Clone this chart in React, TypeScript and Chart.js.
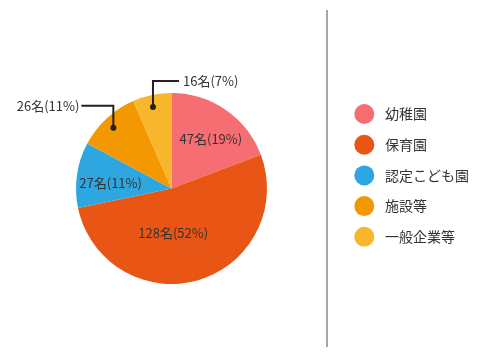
import React, { useEffect, useRef } from "react";
import { Chart, registerables } from "chart.js";

Chart.register(...registerables);

const categories = ["幼稚園", "保育園", "認定こども園", "施設等", "一般企業等"];
const counts = [47, 128, 27, 26, 16];
const percents = [19, 52, 11, 11, 7];
const colors = ["#F76E72", "#E95514", "#2EA7E0", "#F39800", "#F8B62D"];

// label placement styling: inside (radius fraction, angle shift deg) or leader callout
const labelStyles = [
  { type: "in", frac: 0.66, shift: 4 },
  { type: "in", frac: 0.466, shift: 14 },
  { type: "in", frac: 0.64, shift: -3 },
  { type: "out", frac: 0.88, shift: -1, rise: 22, run: -32 },
  { type: "out", frac: 0.875, shift: -1, rise: 26, run: 26 },
];

const FONT = '"Noto Sans CJK JP", "Noto Sans", sans-serif';

const overlayPlugin = {
  id: "overlay",
  afterDatasetsDraw(chart: any) {
    const ctx = chart.ctx;
    const meta = chart.getDatasetMeta(0);
    ctx.save();
    ctx.font = `13px ${FONT}`;
    ctx.fillStyle = "#333";
    ctx.strokeStyle = "#222";
    ctx.textBaseline = "middle";
    meta.data.forEach((arc: any, i: number) => {
      const p = arc.getProps(["startAngle", "endAngle", "outerRadius", "x", "y"], true);
      const st = labelStyles[i];
      const mid = (p.startAngle + p.endAngle) / 2 + (st.shift * Math.PI) / 180;
      const r = p.outerRadius * st.frac;
      const lx = p.x + Math.cos(mid) * r;
      const ly = p.y + Math.sin(mid) * r;
      const text = `${counts[i]}名(${percents[i]}%)`;
      if (st.type === "in") {
        ctx.textAlign = "center";
        ctx.fillText(text, lx, ly);
      } else {
        const ey = ly - (st.rise as number);
        const ex = lx + (st.run as number);
        ctx.lineWidth = 2;
        ctx.beginPath();
        ctx.moveTo(lx, ly);
        ctx.lineTo(lx, ey);
        ctx.lineTo(ex, ey);
        ctx.stroke();
        ctx.beginPath();
        ctx.arc(lx, ly, 3, 0, Math.PI * 2);
        ctx.fillStyle = "#222";
        ctx.fill();
        ctx.fillStyle = "#333";
        if ((st.run as number) < 0) {
          ctx.textAlign = "right";
          ctx.fillText(text, ex - 2, ey);
        } else {
          ctx.textAlign = "left";
          ctx.fillText(text, ex + 4, ey);
        }
      }
    });

    // divider line
    ctx.strokeStyle = "#8f8f8f";
    ctx.lineWidth = 1.6;
    ctx.beginPath();
    ctx.moveTo(327, 10);
    ctx.lineTo(327, 347);
    ctx.stroke();

    // legend
    ctx.font = `14px ${FONT}`;
    ctx.textAlign = "left";
    ctx.textBaseline = "middle";
    categories.forEach((c, i) => {
      const y = 114 + i * 30.7;
      ctx.beginPath();
      ctx.arc(364.3, y, 10, 0, Math.PI * 2);
      ctx.fillStyle = colors[i];
      ctx.fill();
      ctx.fillStyle = "#333";
      ctx.fillText(c, 385, y);
    });
    ctx.restore();
  },
};

export default function App() {
  const ref = useRef<HTMLCanvasElement>(null);
  useEffect(() => {
    document.body.style.margin = "0";
    const chart = new Chart(ref.current as HTMLCanvasElement, {
      type: "pie",
      data: {
        labels: categories,
        datasets: [
          {
            data: counts,
            backgroundColor: colors,
            borderWidth: 0,
          },
        ],
      },
      options: {
        animation: false,
        responsive: false,
        maintainAspectRatio: false,
        layout: { padding: { left: 76, right: 223, top: 93, bottom: 73 } },
        plugins: { legend: { display: false }, tooltip: { enabled: false } },
      },
      plugins: [overlayPlugin],
    });
    return () => chart.destroy();
  }, []);
  return (
    <div style={{ position: "absolute", left: 0, top: 0, width: 490, height: 357, background: "#fff" }}>
      <canvas ref={ref} width={490} height={357} style={{ width: 490, height: 357 }} />
    </div>
  );
}
